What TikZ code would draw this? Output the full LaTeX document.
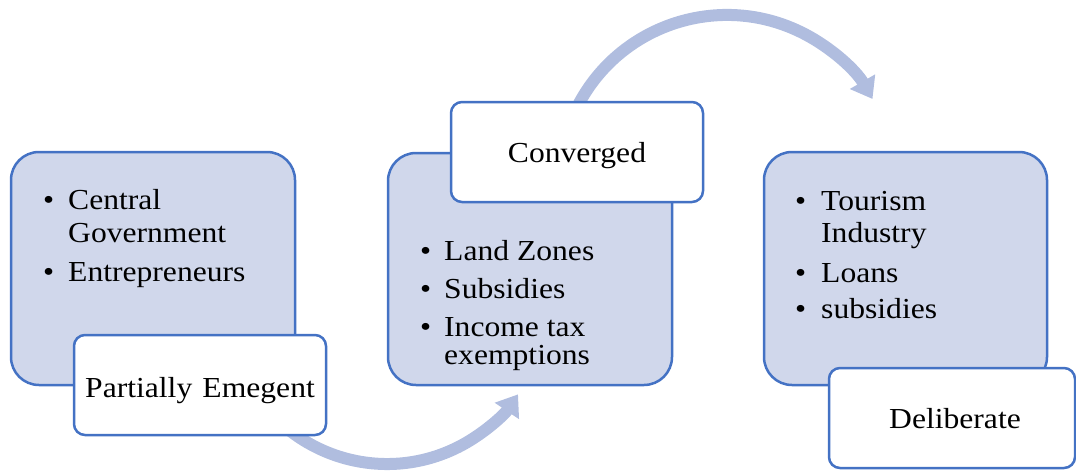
\documentclass[tikz,border=0pt]{standalone}
\usepackage{fontspec}
\setmainfont{Liberation Serif}[FakeStretch=1.09]
\usetikzlibrary{arrows.meta}
\definecolor{boxblue}{HTML}{4472C4}
\definecolor{boxfill}{HTML}{D0D7EB}
\definecolor{arrowblue}{HTML}{B0BDDF}
\newcommand\bodyfont{\fontsize{29}{34}\selectfont}
\begin{document}
\begin{tikzpicture}[x=1pt,y=-1pt,
  bluebox/.style={draw=boxblue, line width=2.5pt, fill=boxfill, rounded corners=28pt, inner sep=0pt},
  whitebox/.style={draw=boxblue, line width=2.5pt, fill=white, rounded corners=11pt, inner sep=0pt},
  flow/.style={draw=arrowblue, line width=12pt, -{Triangle[width=28pt,length=20pt]}},
  txt/.style={anchor=base west, inner sep=0pt, font=\bodyfont},
  bul/.style={anchor=base west, inner sep=0pt, font=\bodyfont},
  tagtext/.style={anchor=base, inner sep=0pt, font=\bodyfont}]
\useasboundingbox (0,0) rectangle (1076,471);

% curved flow arrows (behind the boxes)
\coordinate (flowAstart) at (250.2,385);
\coordinate (flowBstart) at (577.3,106.7);
\draw[flow] (flowAstart) arc[start angle=150, end angle=34, radius=158];
\draw[flow] (flowBstart) arc[start angle=207, end angle=330, radius=168];

% stage boxes
\node[bluebox, minimum width=284pt, minimum height=233pt] (stageA) at (153,268.5) {};
\node[bluebox, minimum width=284pt, minimum height=232pt] (stageB) at (530,269) {};
\node[bluebox, minimum width=283pt, minimum height=233pt] (stageC) at (905.5,268.5) {};

% label boxes
\node[whitebox, minimum width=252pt, minimum height=100pt] (tagA) at (200,385) {};
\node[whitebox, minimum width=252pt, minimum height=100pt] (tagB) at (577,152) {};
\node[whitebox, minimum width=246pt, minimum height=100pt] (tagC) at (952,418) {};

\node[tagtext] (tagAtext) at (200,397) {Partially\hspace{0.35em}Emegent};
\node[tagtext] (tagBtext) at (577,162) {Converged};
\node[tagtext] (tagCtext) at (955,428) {Deliberate};

% first stage list
\node[bul] (a1b) at (43,209) {•};
\node[txt] (a1) at (68,209) {Central};
\node[txt] (a1x) at (68,242) {Government};
\node[bul] (a2b) at (43,281) {•};
\node[txt] (a2) at (68,281) {Entrepreneurs};

% second stage list
\node[bul] (b1b) at (420,260) {•};
\node[txt] (b1) at (444,260) {Land Zones};
\node[bul] (b2b) at (420,298) {•};
\node[txt] (b2) at (444,298) {Subsidies};
\node[bul] (b3b) at (420,336) {•};
\node[txt] (b3) at (444,336) {Income tax};
\node[txt] (b3x) at (444,364) {exemptions};

% third stage list
\node[bul] (c1b) at (795,210) {•};
\node[txt] (c1) at (821,210) {Tourism};
\node[txt] (c1x) at (821,242) {Industry};
\node[bul] (c2b) at (795,282) {•};
\node[txt] (c2) at (821,282) {Loans};
\node[bul] (c3b) at (795,318) {•};
\node[txt] (c3) at (821,318) {subsidies};
\end{tikzpicture}
\end{document}
